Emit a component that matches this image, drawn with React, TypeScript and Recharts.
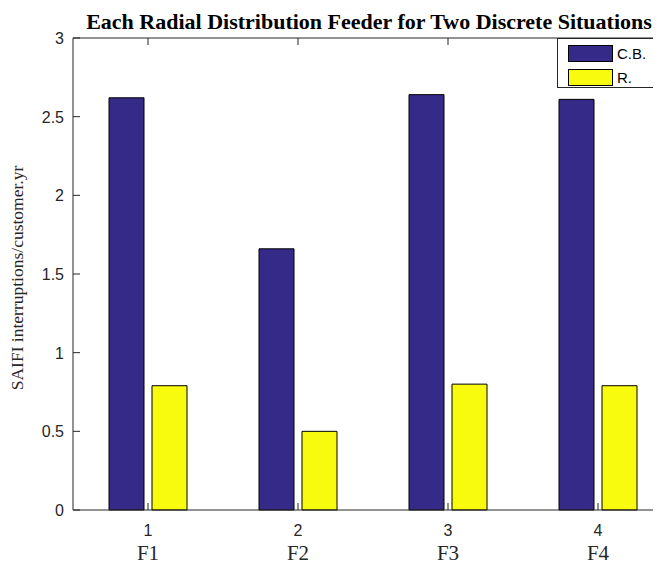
import { BarChart, Bar, XAxis, YAxis } from 'recharts';

const feeders = ['F1', 'F2', 'F3', 'F4'];
const tickNumbers = ['1', '2', '3', '4'];
const cbValues = [2.62, 1.66, 2.64, 2.61];
const rValues = [0.79, 0.5, 0.8, 0.79];
const yTicks = [0, 0.5, 1, 1.5, 2, 2.5, 3];

const series = [
  { key: 'cb', name: 'C.B.', color: '#352A87' },
  { key: 'r', name: 'R.', color: '#F9FB0E' },
];

const data = tickNumbers.map((n, i) => ({
  name: n,
  cb: cbValues[i],
  r: rValues[i],
}));

const BottomTick = (props: any) => {
  const { x, y, payload, index } = props;
  return (
    <g>
      <line x1={x} x2={x} y1={y} y2={y - 7} stroke="#262626" strokeWidth={1} />
      <text x={x} y={y + 26} textAnchor="middle" fontFamily="Liberation Sans, Arial" fontSize={16} fill="#262626">
        {payload.value}
      </text>
      <text x={x} y={y + 50} textAnchor="middle" fontFamily="Liberation Serif, Times New Roman" fontSize={21} fill="#262626">
        {feeders[index]}
      </text>
    </g>
  );
};

const TopTick = (props: any) => {
  const { x, y } = props;
  return <line x1={x} x2={x} y1={y} y2={y + 7} stroke="#262626" strokeWidth={1} />;
};

const LeftTick = (props: any) => {
  const { x, y, payload } = props;
  return (
    <g>
      <line x1={x} x2={x + 7} y1={y} y2={y} stroke="#262626" strokeWidth={1} />
      <text x={x - 9} y={y + 6} textAnchor="end" fontFamily="Liberation Sans, Arial" fontSize={16} fill="#262626">
        {payload.value}
      </text>
    </g>
  );
};

export default function App() {
  return (
    <div style={{ position: 'relative', width: 653, height: 558, overflow: 'hidden', background: '#fff' }}>
      <div
        style={{
          position: 'absolute',
          top: 1,
          left: 4,
          width: 714,
          textAlign: 'center',
          fontFamily: 'Liberation Serif, Times New Roman',
          fontWeight: 'bold',
          fontSize: 22,
          color: '#000',
          whiteSpace: 'nowrap',
        }}
      >
        Each Radial Distribution Feeder for Two Discrete Situations
      </div>
      <div
        style={{
          position: 'absolute',
          left: 9,
          top: 270,
          transform: 'translate(-50%, -50%) rotate(-90deg)',
          fontFamily: 'Liberation Serif, Times New Roman',
          fontSize: 17.5,
          color: '#262626',
          whiteSpace: 'nowrap',
        }}
      >
        SAIFI interruptions/customer.yr
      </div>
      <BarChart
        width={700}
        height={558}
        data={data}
        margin={{ top: 0, right: 35, bottom: 0, left: 0 }}
        barCategoryGap="24%"
        barGap={8}
      >
        <XAxis
          xAxisId="top"
          orientation="top"
          dataKey="name"
          height={30}
          tickSize={0}
          tickMargin={0}
          tick={<TopTick />}
          axisLine={{ stroke: '#262626' }}
          tickLine={false}
        />
        <XAxis
          dataKey="name"
          height={56}
          tickSize={0}
          tickMargin={0}
          tick={<BottomTick />}
          axisLine={{ stroke: '#262626' }}
          tickLine={false}
        />
        <YAxis
          width={65}
          domain={[0, 3]}
          ticks={yTicks}
          tickSize={0}
          tickMargin={0}
          tick={<LeftTick />}
          axisLine={{ stroke: '#262626' }}
          tickLine={false}
        />
        {series.map((s) => (
          <Bar key={s.key} dataKey={s.key} name={s.name} fill={s.color} stroke="#000" strokeWidth={1} isAnimationActive={false} />
        ))}
      </BarChart>
      <div
        style={{
          position: 'absolute',
          left: 549,
          top: 30,
          width: 130,
          height: 50,
          border: '1px solid #262626',
          background: '#fff',
          boxSizing: 'border-box',
          paddingTop: 5,
        }}
      >
        {series.map((s) => (
          <div key={s.key} style={{ display: 'flex', alignItems: 'center', height: 19, marginBottom: 5 }}>
            <div style={{ marginLeft: 10, width: 45, height: 17, background: s.color, border: '1px solid #000', boxSizing: 'border-box' }} />
            <span style={{ marginLeft: 4, fontFamily: 'Liberation Sans, Arial', fontSize: 15, color: '#000' }}>{s.name}</span>
          </div>
        ))}
      </div>
    </div>
  );
}
